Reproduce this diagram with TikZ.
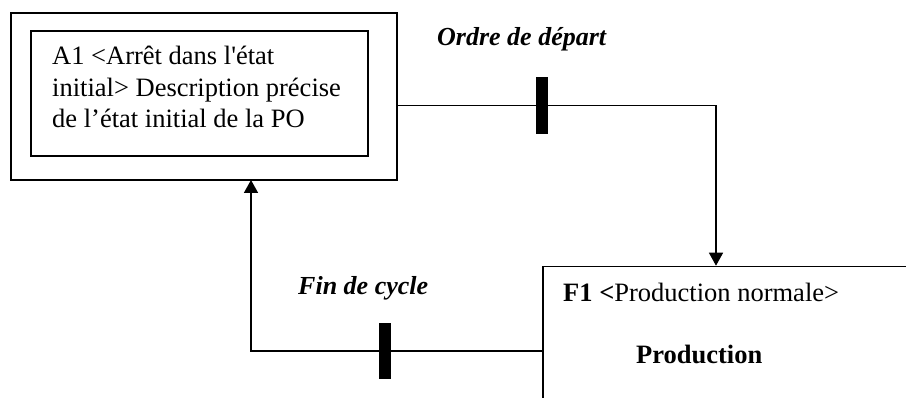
\documentclass[tikz,border=0pt]{standalone}
\usepackage{fontspec}
\setmainfont{Liberation Serif}
\usetikzlibrary{positioning, arrows.meta, calc}

\begin{document}
\begin{tikzpicture}[x=1pt, y=-1pt, font=\fontsize{26.5}{31.4}\selectfont,
    box/.style={draw, line width=1.5pt, inner sep=0pt},
    bar/.style={fill=black, inner sep=0pt, minimum width=12pt, minimum height=57pt},
    flow/.style={line width=1.5pt},
    arr/.style={flow, -{Triangle[length=13pt, width=14pt]}},
    txt/.style={anchor=base west, inner sep=0pt},
    lbl/.style={txt, font=\fontsize{26}{30}\selectfont\bfseries\itshape}]
        \clip (0,0) rectangle (906,398);

        % step A1
        \node[box, minimum width=386pt, minimum height=167pt] (A1box) at (204,96.5) {};
        \node[box, minimum width=337pt, minimum height=125pt] (A1in) at (199.5,93.5) {};
        \node[txt, align=left] (A1txt) at (52,127.7) {A1 <Arrêt dans l\textquotesingle état\\initial> Description précise\\de l’état initial de la PO};

        % step F1 (open to the right and below)
        \node[box, anchor=north west, minimum width=450pt, minimum height=200pt] (F1box) at (542,265.7) {};
        \node[txt] (F1txt) at (563,302) {\textbf{F1 <}Production normale>};
        \node[txt, font=\fontsize{26.5}{30}\selectfont\bfseries] (F1act) at (636,363) {Production};

        % transitions
        \coordinate (in1) at (716,265.7);
        \coordinate (in2) at (251,180);
        \node[bar] (t1) at (542,105.5) {};
        \node[bar, minimum height=56pt] (t2) at (385,351) {};
        \draw[flow] (A1box.east |- t1) -- (t1);
        \draw[arr] (t1) -| (in1);
        \draw[arr] (F1box.west |- t2) -- (t2) -| (in2);

        \node[lbl] (t1lbl) at (437,46) {Ordre de départ};
        \node[lbl] (t2lbl) at (298,295) {Fin de cycle};
\end{tikzpicture}
\end{document}
